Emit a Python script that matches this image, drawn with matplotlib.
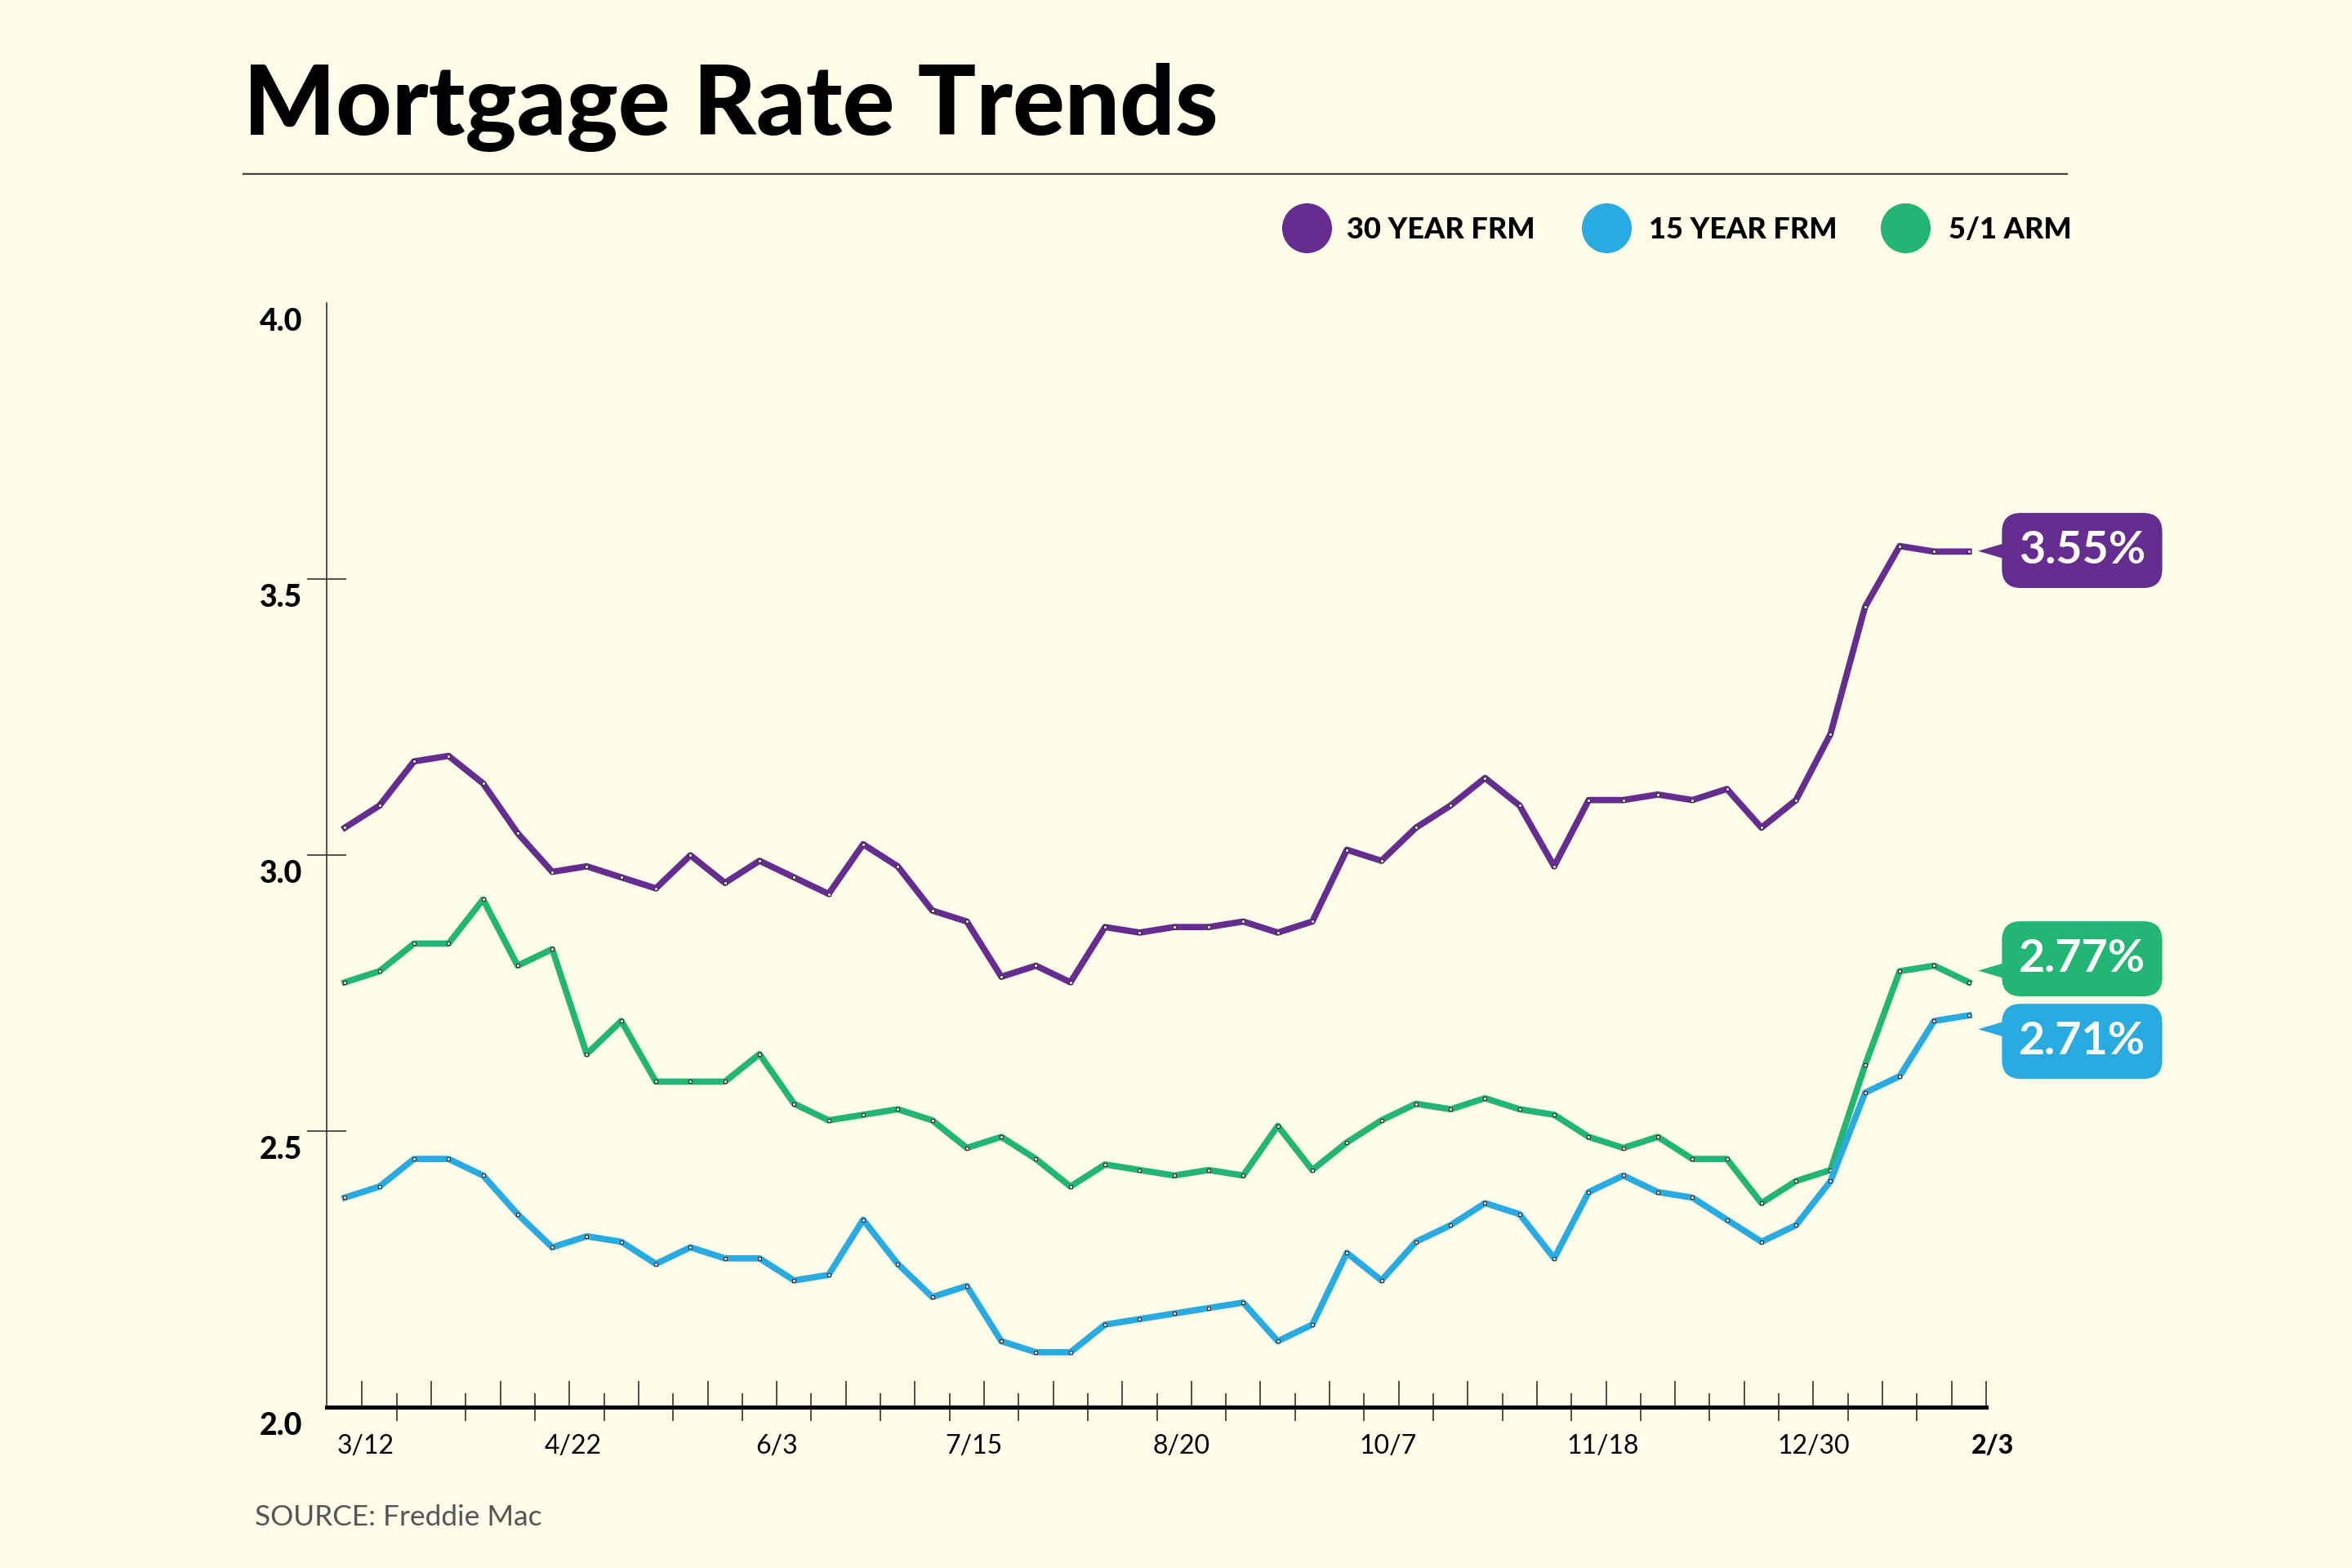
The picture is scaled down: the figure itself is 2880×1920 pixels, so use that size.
import numpy as np
import matplotlib
matplotlib.use("Agg")
import matplotlib.pyplot as plt
from matplotlib.lines import Line2D
from matplotlib.patches import FancyBboxPatch, Polygon
from matplotlib.transforms import ScaledTranslation, blended_transform_factory

# weekly Freddie Mac rates, 3/11 through 2/3
rate_30yr = [3.05, 3.09, 3.17, 3.18, 3.13, 3.04, 2.97, 2.98, 2.96, 2.94,
             3.00, 2.95, 2.99, 2.96, 2.93, 3.02, 2.98, 2.90, 2.88, 2.78,
             2.80, 2.77, 2.87, 2.86, 2.87, 2.87, 2.88, 2.86, 2.88, 3.01,
             2.99, 3.05, 3.09, 3.14, 3.09, 2.98, 3.10, 3.10, 3.11, 3.10,
             3.12, 3.05, 3.10, 3.22, 3.45, 3.56, 3.55, 3.55]
rate_15yr = [2.38, 2.40, 2.45, 2.45, 2.42, 2.35, 2.29, 2.31, 2.30, 2.26,
             2.29, 2.27, 2.27, 2.23, 2.24, 2.34, 2.26, 2.20, 2.22, 2.12,
             2.10, 2.10, 2.15, 2.16, 2.17, 2.18, 2.19, 2.12, 2.15, 2.28,
             2.23, 2.30, 2.33, 2.37, 2.35, 2.27, 2.39, 2.42, 2.39, 2.38,
             2.34, 2.30, 2.33, 2.41, 2.57, 2.60, 2.70, 2.71]
rate_arm = [2.77, 2.79, 2.84, 2.84, 2.92, 2.80, 2.83, 2.64, 2.70, 2.59,
            2.59, 2.59, 2.64, 2.55, 2.52, 2.53, 2.54, 2.52, 2.47, 2.49,
            2.45, 2.40, 2.44, 2.43, 2.42, 2.43, 2.42, 2.51, 2.43, 2.48,
            2.52, 2.55, 2.54, 2.56, 2.54, 2.53, 2.49, 2.47, 2.49, 2.45,
            2.45, 2.37, 2.41, 2.43, 2.62, 2.79, 2.80, 2.77]

series_names = ["30 YEAR FRM", "15 YEAR FRM", "5/1 ARM"]
callout_text = ["3.55%", "2.77%", "2.71%"]

date_labels = ["3/12", "4/22", "6/3", "7/15", "8/20", "10/7", "11/18", "12/30", "2/3"]
date_label_x = [0.6, 6.6, 12.5, 18.2, 24.2, 30.2, 36.4, 42.5, 47.7]

y_ticks = [2.0, 2.5, 3.0, 3.5, 4.0]

BG = "#fefde9"
PURPLE = "#662d91"
BLUE = "#29abe2"
GREEN = "#22b573"
FONT = ["Lato", "DejaVu Sans"]

plt.rcParams["font.family"] = FONT

fig = plt.figure(figsize=(14.4, 9.6), dpi=200, facecolor=BG)
ax = fig.add_axes([0.1390, 0.1024, 0.7054, 0.7043])
ax.set_facecolor(BG)

x = np.arange(len(rate_30yr))
marker_kw = dict(marker="s", ms=1.6, mfc="#d9d9d9", mec="#333333", mew=0.4)
ax.plot(x, rate_arm, color=GREEN, lw=2.8, zorder=3, **marker_kw)
ax.plot(x, rate_15yr, color=BLUE, lw=2.8, zorder=4, **marker_kw)
ax.plot(x, rate_30yr, color=PURPLE, lw=2.8, zorder=5, **marker_kw)

ax.set_xlim(-0.52, 47.5)
ax.set_ylim(2.0, 4.0)

for s in ["top", "right"]:
    ax.spines[s].set_visible(False)
ax.spines["left"].set_color("#333333")
ax.spines["left"].set_linewidth(0.6)
ax.spines["bottom"].set_color("black")
ax.spines["bottom"].set_linewidth(1.8)

# weekly ticks: alternating "above" and "crossing"
tick_pos = np.arange(len(rate_30yr)) + 0.5
above = [t for i, t in enumerate(tick_pos) if i % 2 == 0 or i == len(tick_pos) - 1]
cross = [t for i, t in enumerate(tick_pos) if i % 2 == 1 and i != len(tick_pos) - 1]
ax.set_xticks(cross)
ax.set_xticks(above, minor=True)
ax.tick_params(axis="x", which="major", direction="inout", length=12, width=0.6,
               color="#333333", labelbottom=False)
ax.tick_params(axis="x", which="minor", direction="in", length=11.4, width=0.6,
               color="#333333", labelbottom=False)

trans = blended_transform_factory(ax.transData, ax.transAxes)
for lab, xp in zip(date_labels, date_label_x):
    ax.text(xp, -0.035, lab, transform=trans, ha="center", va="center",
            fontsize=11.5, color="black",
            fontweight="black" if lab == "2/3" else "normal")

ax.set_yticks(y_ticks)
ax.set_yticklabels([f"{v:.1f}" for v in y_ticks])
ax.tick_params(axis="y", direction="inout", length=17, width=0.6, color="#333333",
               pad=2.4, labelsize=13.5)
for lab in ax.get_yticklabels():
    lab.set_fontweight("black")
    lab.set_transform(lab.get_transform() + ScaledTranslation(0, -0.10, fig.dpi_scale_trans))
ytl = ax.yaxis.get_major_ticks()
ytl[0].tick1line.set_visible(False)
ytl[-1].tick1line.set_visible(False)

# callouts at the right end
colors = [PURPLE, GREEN, BLUE]
box_cy = [3.552, 2.8125, 2.663]
tip_y = [3.551, 2.791, 2.685]
aspect = (1 / 368) / (1 / 23.04)
for txt, c, cy, ty in zip(callout_text, colors, box_cy, tip_y):
    box = FancyBboxPatch((47.96, cy - 0.068), 4.64, 0.136,
                         boxstyle="round,pad=0,rounding_size=0.55",
                         mutation_aspect=aspect, fc=c, ec="none",
                         clip_on=False, zorder=6)
    ax.add_patch(box)
    ax.add_patch(Polygon([[47.27, ty], [48.3, ty + 0.019], [48.3, ty - 0.019]],
                         closed=True, fc=c, ec="none", clip_on=False, zorder=6))
    ax.text(50.28, cy, txt, ha="center", va="center", color="white",
            fontsize=20, fontweight="bold", zorder=7, clip_on=False)

# title, rule, legend, source
fig.text(0.1033, 0.9139, "Mortgage Rate Trends", fontsize=42.8, fontweight="black",
         color="black", va="baseline", ha="left")
fig.add_artist(Line2D([0.1033, 0.8788], [0.889, 0.889], color="#444444", lw=0.8,
                      transform=fig.transFigure))

leg_cx = [0.5555, 0.6830, 0.8099]
leg_tx = [0.5727, 0.7009, 0.8284]
for name, c, cx, tx in zip(series_names, [PURPLE, BLUE, GREEN], leg_cx, leg_tx):
    fig.add_artist(Line2D([cx], [0.8545], marker="o", ms=22, mfc=c, mec="none",
                          ls="none", transform=fig.transFigure))
    fig.text(tx, 0.8535, name, fontsize=13, fontweight="black", va="center", ha="left")

fig.text(0.1084, 0.0325, "SOURCE: Freddie Mac", fontsize=12.7, color="#555555",
         va="center", ha="left")

fig.savefig("out.png", dpi=200, facecolor=BG)
